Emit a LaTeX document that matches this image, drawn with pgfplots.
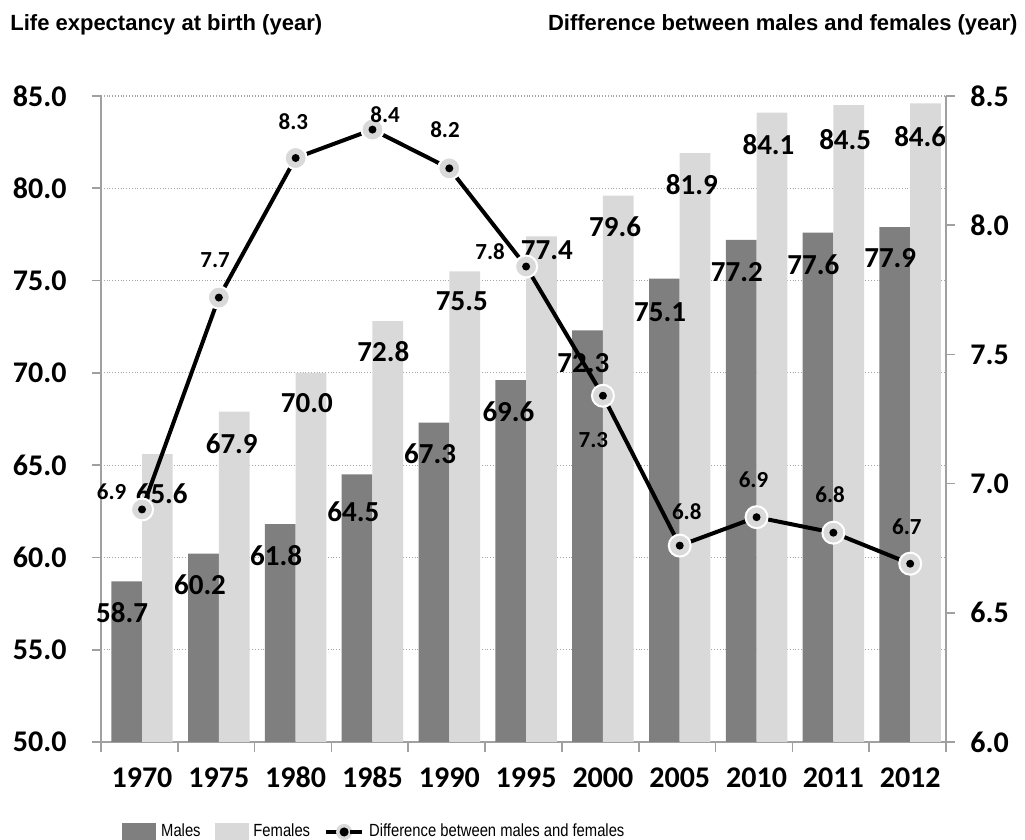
\documentclass[border=0pt]{standalone}
\usepackage{fontspec}
\setmainfont{Carlito}[Numbers=Lining]
\newfontfamily\arialfont{Liberation Sans}
\newfontfamily\narrowfont{Liberation Sans}[FakeStretch=0.84]
\usepackage{pgfplots}
\pgfplotsset{compat=1.18}

\definecolor{males}{HTML}{7F7F7F}
\definecolor{females}{HTML}{D9D9D9}
\definecolor{axisgray}{HTML}{A0A0A0}

\pgfdeclareplotmark{ringdot}{%
  \pgfsetlinewidth{1pt}\pgfsetstrokecolor{white}\pgfsetfillcolor{females}%
  \pgfpathcircle{\pgfpointorigin}{5.5pt}\pgfusepath{fill,stroke}%
  \pgfsetfillcolor{black}%
  \pgfpathcircle{\pgfpointorigin}{2pt}\pgfusepath{fill}}

\tikzset{
  lab/.style={inner sep=0pt, anchor=center, font=\fontsize{14.5}{14.5}\selectfont\bfseries},
  slab/.style={inner sep=0pt, anchor=center, font=\fontsize{11.5}{11.5}\selectfont\bfseries},
}

\pgfplotsset{
  common/.style={
    at={(0,0)}, anchor=south west,
    scale only axis, width=422.5pt, height=323pt,
    xmin=-0.534, xmax=10.466,
    axis line style={axisgray, line width=0.8pt, -},
    tick align=outside,
    major tick length=4.5pt,
    minor tick length=5pt,
    clip mode=individual,
  },
}

\begin{document}
\begin{tikzpicture}[x=1pt,y=1pt]
\useasboundingbox (-50.5,-49) rectangle (462,371);

% bars, left axis
\begin{axis}[
  common,
  ymin=50, ymax=85,
  ytick={50,55,...,85},
  xtick={0,...,10},
  xticklabels={1970,1975,1980,1985,1990,1995,2000,2005,2010,2011,2012},
  minor xtick={-0.534,0.466,...,10.466},
  axis x line*=bottom, axis y line*=left,
  major x tick style={draw=none},
  minor x tick style={axisgray, line width=0.8pt},
  ytick style={axisgray, line width=0.8pt},
  ymajorgrids,
  grid style={densely dotted, gray!70, line width=0.6pt},
  yticklabel style={/pgf/number format/.cd, fixed, fixed zerofill, precision=1,
    assume math mode=true, /tikz/.cd,
    font=\fontsize{15}{15}\selectfont\bfseries, inner sep=0pt, anchor=east, xshift=-12.5pt},
  xticklabel style={font=\fontsize{15}{15}\selectfont\bfseries, inner sep=0pt,
    anchor=base, yshift=-18.25pt},
]
\addplot[ybar, bar width=0.4, bar shift=-0.2, fill=males, draw=none] coordinates {
  (0,58.7) (1,60.2) (2,61.8) (3,64.5) (4,67.3) (5,69.6)
  (6,72.3) (7,75.1) (8,77.2) (9,77.6) (10,77.9)
};
\addplot[ybar, bar width=0.4, bar shift=0.2, fill=females, draw=none] coordinates {
  (0,65.6) (1,67.9) (2,70.0) (3,72.8) (4,75.5) (5,77.4)
  (6,79.6) (7,81.9) (8,84.1) (9,84.5) (10,84.6)
};
% male labels
\node[lab] at (axis cs:-0.26,56.99) {58.7};
\node[lab] at (axis cs:0.755,58.51) {60.2};
\node[lab] at (axis cs:1.745,60.08) {61.8};
\node[lab] at (axis cs:2.751,62.48) {64.5};
\node[lab] at (axis cs:3.75,65.64) {67.3};
\node[lab] at (axis cs:4.77,67.89) {69.6};
\node[lab] at (axis cs:5.746,70.52) {72.3};
\node[lab] at (axis cs:6.745,73.31) {75.1};
\node[lab] at (axis cs:7.743,75.48) {77.2};
\node[lab] at (axis cs:8.74,75.84) {77.6};
\node[lab] at (axis cs:9.74,76.21) {77.9};
% female labels
\node[lab] at (axis cs:0.257,63.47) {65.6};
\node[lab] at (axis cs:1.168,66.18) {67.9};
\node[lab] at (axis cs:2.145,68.35) {70.0};
\node[lab] at (axis cs:3.142,71.15) {72.8};
\node[lab] at (axis cs:4.163,73.86) {75.5};
\node[lab] at (axis cs:5.27,76.66) {77.4};
\node[lab] at (axis cs:6.159,77.92) {79.6};
\node[lab] at (axis cs:7.157,80.18) {81.9};
\node[lab] at (axis cs:8.155,82.35) {84.1};
\node[lab] at (axis cs:9.154,82.62) {84.5};
\node[lab] at (axis cs:10.13,82.80) {84.6};
\end{axis}

% difference line, right axis
\begin{axis}[
  common,
  ymin=6, ymax=8.5,
  ytick={6,6.5,...,8.5},
  axis x line=none, axis y line*=right,
  ytick style={axisgray, line width=0.8pt},
  yticklabel style={/pgf/number format/.cd, fixed, fixed zerofill, precision=1,
    assume math mode=true, /tikz/.cd,
    font=\fontsize{15}{15}\selectfont\bfseries, inner sep=0pt, anchor=west, xshift=7.5pt},
  legend columns=3,
  legend cell align=left,
  legend style={at={(axis description cs:0.02485,-0.1393)}, anchor=west,
    draw=none, fill=none, inner sep=0pt,
    font=\narrowfont\fontsize{8.8}{10}\selectfont,
    nodes={inner sep=0pt},
    /tikz/every odd column/.append style={column sep=2.5pt},
    /tikz/every even column/.append style={column sep=7pt}},
]
\addlegendimage{legend image code/.code={\fill[males] (0pt,-4.5pt) rectangle (16.5pt,4.5pt);}}
\addlegendentry{Males}
\addlegendimage{legend image code/.code={\fill[females] (0pt,-4.5pt) rectangle (16.5pt,4.5pt);}}
\addlegendentry{Females}
\addplot[black, line width=2pt, mark=ringdot,
  legend image code/.code={
    \draw[black, line width=2pt] (0pt,0pt) -- (6pt,0pt);
    \fill[females] (9pt,0pt) circle (3pt);
    \fill[black] (9pt,0pt) circle (1.2pt);
    \draw[black, line width=2pt] (12pt,0pt) -- (18pt,0pt);}]
  coordinates {
  (0,6.90) (1,7.72) (2,8.26) (3,8.37) (4,8.22) (5,7.84)
  (6,7.34) (7,6.76) (8,6.87) (9,6.81) (10,6.69)
};
\addlegendentry{Difference between males and females}
\node[slab] at (axis cs:-0.395,6.969) {6.9};
\node[slab] at (axis cs:0.951,7.865) {7.7};
\node[slab] at (axis cs:1.970,8.401) {8.3};
\node[slab] at (axis cs:3.164,8.426) {8.4};
\node[slab] at (axis cs:3.945,8.368) {8.2};
\node[slab] at (axis cs:4.531,7.897) {7.8};
\node[slab] at (axis cs:5.876,7.169) {7.3};
\node[slab] at (axis cs:7.092,6.891) {6.8};
\node[slab] at (axis cs:7.96,7.014) {6.9};
\node[slab] at (axis cs:8.958,6.956) {6.8};
\node[slab] at (axis cs:9.957,6.833) {6.7};
\end{axis}

\node[anchor=west, inner sep=0pt, font=\arialfont\bfseries\fontsize{11}{11}\selectfont]
  at (-45.5,358.5) {Life expectancy at birth (year)};
\node[anchor=east, inner sep=0pt, font=\arialfont\bfseries\fontsize{11}{11}\selectfont]
  at (458.5,358.5) {Difference between males and females (year)};
\end{tikzpicture}
\end{document}
